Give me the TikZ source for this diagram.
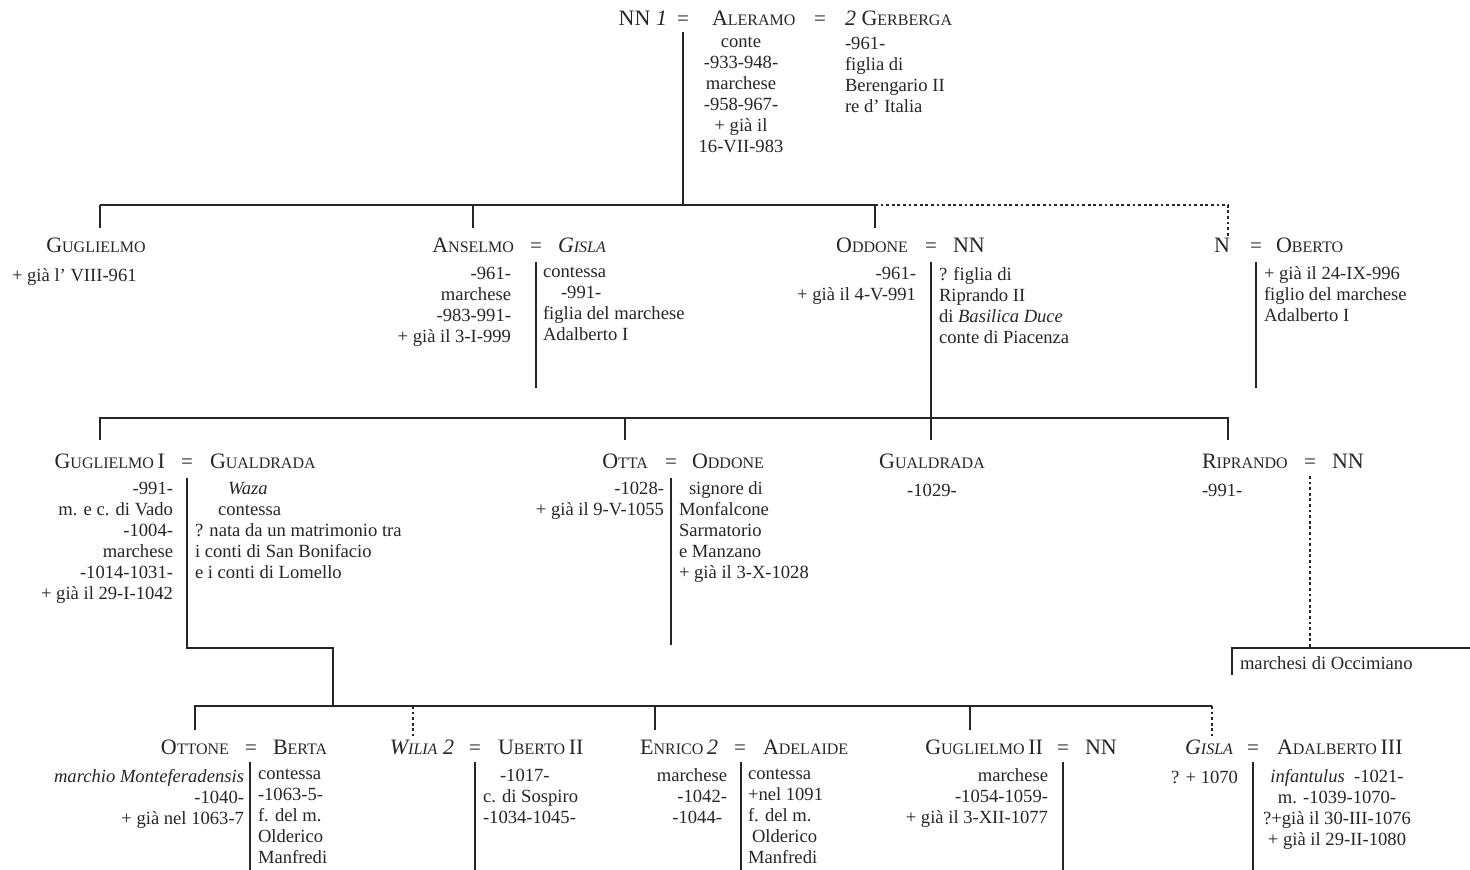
\documentclass[tikz,border=0pt]{standalone}
\usepackage{fontspec}
\setmainfont{Liberation Serif}
\definecolor{ink}{RGB}{38,38,38}
\newcommand\Nm[2]{{\fontsize{11}{12}\selectfont #1}{\fontsize{8}{10}\selectfont #2}}
\newcommand\Nb[1]{{\fontsize{11}{12}\selectfont #1}}
\tikzset{
  x=0.5pt, y=-0.5pt,
  every node/.style={inner sep=0pt, outer sep=0pt, text=ink},
  nm/.style={font=\fontsize{11}{12}\selectfont, yshift=-0.75pt},
  eq/.style={anchor=base, font=\fontsize{10.5}{12}\selectfont, yshift=-0.75pt},
  bodyfont/.style={font=\fontsize{9.3}{10.5}\selectfont, yshift=5pt, execute at begin node=\strut},
  bodyL/.style={bodyfont, anchor=north west, align=left},
  bodyR/.style={bodyfont, anchor=north east, align=right},
  bodyC/.style={bodyfont, anchor=north, align=center},
  tie/.style={draw=ink, line width=0.8pt},
  dot/.style={draw=ink, line width=0.8pt, dash pattern=on 1.4pt off 1.4pt},
}
\begin{document}
\begin{tikzpicture}
\useasboundingbox[fill=white] (0,0) rectangle (1470,870);

% ---------- generation 0 ----------
\node[nm, anchor=base east] (nn1) at (667,24) {NN \textit{1}};
\node[eq] (eq0a) at (683,24) {=};
\node[nm, anchor=base west] (aleramo) at (712,24) {\Nm{A}{LERAMO}};
\node[eq] (eq0b) at (820,24) {=};
\node[nm, anchor=base west] (gerberga) at (845,24) {\textit{2} \Nm{G}{ERBERGA}};
\node[bodyC] (aleramoT) at (741,47) {conte\\-933-948-\\marchese\\-958-967-\\+ già il\\16-VII-983};
\node[bodyL] (gerbergaT) at (845,47) {-961-\\figlia di\\Berengario II\\re d' Italia};

% ---------- generation 1 ----------
\node[nm, anchor=base] (gugl) at (96,251) {\Nm{G}{UGLIELMO}};
\node[bodyL] (guglT) at (12,277) {+ già l' VIII-961};

\node[nm, anchor=base east] (anselmo) at (514,251) {\Nm{A}{NSELMO}};
\node[eq] (eq1a) at (536,251) {=};
\node[nm, anchor=base west] (gisla1) at (558,251) {\textit{\Nm{G}{ISLA}}};
\node[bodyR] (anselmoT) at (511,277) {-961-\\marchese\\-983-991-\\+ già il 3-I-999};
\node[bodyL] (gisla1T) at (543,277) {contessa\\\hspace*{9pt}-991-\\figlia del marchese\\Adalberto I};

\node[nm, anchor=base east] (oddone1) at (908,251) {\Nm{O}{DDONE}};
\node[eq] (eq1b) at (931,251) {=};
\node[nm, anchor=base west] (nn2) at (953,251) {NN};
\node[bodyR] (oddone1T) at (916,277) {-961-\\+ già il 4-V-991};
\node[bodyL] (nn2T) at (939,277) {? figlia di\\Riprando II\\di \textit{Basilica Duce}\\conte di Piacenza};

\node[nm, anchor=base east] (nN) at (1230,251) {N};
\node[eq] (eq1c) at (1256,251) {=};
\node[nm, anchor=base west] (oberto) at (1276,251) {\Nm{O}{BERTO}};
\node[bodyL] (obertoT) at (1264,277) {+ già il 24-IX-996\\figlio del marchese\\Adalberto I};

% ---------- generation 2 ----------
\node[nm, anchor=base east] (gugl1) at (165,467) {\Nm{G}{UGLIELMO}\,\Nb{I}};
\node[eq] (eq2a) at (187,467) {=};
\node[nm, anchor=base west] (gualdr1) at (210,467) {\Nm{G}{UALDRADA}};
\node[bodyR] (gugl1T) at (173,492) {-991-\\m. e c. di Vado\\-1004-\\marchese\\-1014-1031-\\+ già il 29-I-1042};
\node[bodyL] (gualdr1T) at (195,492) {\hspace*{16.5pt}\textit{Waza}\\\hspace*{11.5pt}contessa\\? nata da un matrimonio tra\\i conti di San Bonifacio\\e i conti di Lomello};

\node[nm, anchor=base east] (otta) at (648,467) {\Nm{O}{TTA}};
\node[eq] (eq2b) at (671,467) {=};
\node[nm, anchor=base west] (oddone2) at (692,467) {\Nm{O}{DDONE}};
\node[bodyR] (ottaT) at (664,492) {-1028-\\+ già il 9-V-1055};
\node[bodyL] (oddone2T) at (679,492) {\hspace*{5pt}signore di\\Monfalcone\\Sarmatorio\\e Manzano\\+ già il 3-X-1028};

\node[nm, anchor=base] (gualdr2) at (932,467) {\Nm{G}{UALDRADA}};
\node[bodyC] (gualdr2T) at (932,492) {-1029-};

\node[nm, anchor=base west] (riprando) at (1202,467) {\Nm{R}{IPRANDO}};
\node[eq] (eq2c) at (1310,467) {=};
\node[nm, anchor=base west] (nn3) at (1332,467) {NN};
\node[bodyL] (riprandoT) at (1202,492) {-991-};
\node[bodyL] (occim) at (1240,665) {marchesi di Occimiano};

% ---------- generation 3 ----------
\node[nm, anchor=base east] (ottone) at (229,753) {\Nm{O}{TTONE}};
\node[eq] (eq3a) at (251,753) {=};
\node[nm, anchor=base west] (berta) at (273,753) {\Nm{B}{ERTA}};
\node[bodyR] (ottoneT) at (244,779) {\textit{marchio Monteferadensis}\\-1040-\\+ già nel 1063-7};
\node[bodyL] (bertaT) at (258,779) {contessa\\-1063-5-\\f. del m.\\Olderico\\Manfredi};

\node[nm, anchor=base east] (wilia) at (454,753) {\textit{\Nm{W}{ILIA} 2}};
\node[eq] (eq3b) at (475,753) {=};
\node[nm, anchor=base west] (uberto) at (498,753) {\Nm{U}{BERTO}\,\Nb{II}};
\node[bodyL] (ubertoT) at (483,779) {\hspace*{8.5pt}-1017-\\c. di Sospiro\\-1034-1045-};

\node[nm, anchor=base east] (enrico) at (718,753) {\Nm{E}{NRICO}\,\textit{2}};
\node[eq] (eq3c) at (740,753) {=};
\node[nm, anchor=base west] (adelaide) at (763,753) {\Nm{A}{DELAIDE}};
\node[bodyR] (enricoT) at (727,779) {marchese\\-1042-\hspace*{2.5pt}\\-1044-\hspace*{2.5pt}};
\node[bodyL] (adelaideT) at (748,779) {contessa\\+nel 1091\\f. del m.\\\hspace*{2pt}Olderico\\Manfredi};

\node[nm, anchor=base east] (gugl2) at (1043,753) {\Nm{G}{UGLIELMO}\,\Nb{II}};
\node[eq] (eq3d) at (1063,753) {=};
\node[nm, anchor=base west] (nn4) at (1085,753) {NN};
\node[bodyR] (gugl2T) at (1048,779) {marchese\\-1054-1059-\\+ già il 3-XII-1077};

\node[nm, anchor=base east] (gisla2) at (1233,753) {\textit{\Nm{G}{ISLA}}};
\node[eq] (eq3e) at (1253,753) {=};
\node[nm, anchor=base west] (adalb) at (1277,753) {\Nm{A}{DALBERTO}\,\Nb{III}};
\node[bodyR] (gisla2T) at (1238,779) {? + 1070};
\node[bodyC] (adalbT) at (1337,779) {\textit{infantulus}\ \ -1021-\\m. -1039-1070-\\?+già il 30-III-1076\\+ già il 29-II-1080};

% ---------- connector points ----------
\coordinate (c0t) at (683,32);  \coordinate (c0b) at (683,205);
\coordinate (b1L) at (100,205); \coordinate (b1M) at (875,205); \coordinate (b1R) at (1228,205);
\coordinate (t1a) at (100,228); \coordinate (t1b0) at (473,205); \coordinate (t1b) at (473,228);
\coordinate (t1c) at (875,228); \coordinate (t1d) at (1228,236);
\coordinate (s1at) at (536,262); \coordinate (s1ab) at (536,388);
\coordinate (s1bt) at (931,262); \coordinate (s1bb) at (931,440);
\coordinate (s1ct) at (1256,262); \coordinate (s1cb) at (1256,388);
\coordinate (b2L) at (100,418); \coordinate (b2R) at (1228,418);
\coordinate (t2a) at (100,440); \coordinate (t2b0) at (625,418); \coordinate (t2b) at (625,440);
\coordinate (t2d) at (1228,440);
\coordinate (s2at) at (187,478); \coordinate (s2ak) at (187,648); \coordinate (s2ak2) at (333,648); \coordinate (s2ab) at (333,706);
\coordinate (s2bt) at (671,478); \coordinate (s2bb) at (671,645);
\coordinate (s2ct) at (1310,476); \coordinate (s2cb) at (1310,648);
\coordinate (occR) at (1470,648); \coordinate (occL) at (1232,648); \coordinate (occB) at (1232,675);
\coordinate (b3L) at (195,706); \coordinate (b3R) at (1212,706);
\coordinate (t3a) at (195,730);
\coordinate (t3b0) at (413,706); \coordinate (t3b) at (413,736);
\coordinate (t3c0) at (655,706); \coordinate (t3c) at (655,730);
\coordinate (t3d0) at (970,706); \coordinate (t3d) at (970,730);
\coordinate (t3e) at (1212,736);
\coordinate (s3at) at (250,762); \coordinate (s3ab) at (250,870);
\coordinate (s3bt) at (475,762); \coordinate (s3bb) at (475,870);
\coordinate (s3ct) at (741,762); \coordinate (s3cb) at (741,870);
\coordinate (s3dt) at (1063,762); \coordinate (s3db) at (1063,870);
\coordinate (s3et) at (1253,762); \coordinate (s3eb) at (1253,870);

% ---------- connectors ----------
\draw[tie] (c0t) -- (c0b);
\draw[tie] (b1L) -- (b1M);
\draw[dot] (b1M) -- (b1R) -- (t1d);
\draw[tie] (b1L) -- (t1a);
\draw[tie] (t1b0) -- (t1b);
\draw[tie] (b1M) -- (t1c);
\draw[tie] (s1at) -- (s1ab);
\draw[tie] (s1bt) -- (s1bb);
\draw[tie] (s1ct) -- (s1cb);
\draw[tie] (t2a) -- (b2L) -- (b2R) -- (t2d);
\draw[tie] (t2b0) -- (t2b);
\draw[tie] (s2at) -- (s2ak) -- (s2ak2) -- (s2ab);
\draw[tie] (s2bt) -- (s2bb);
\draw[dot] (s2ct) -- (s2cb);
\draw[tie] (occR) -- (occL) -- (occB);
\draw[tie] (t3a) -- (b3L) -- (b3R);
\draw[dot] (b3R) -- (t3e);
\draw[dot] (t3b0) -- (t3b);
\draw[tie] (t3c0) -- (t3c);
\draw[tie] (t3d0) -- (t3d);
\draw[tie] (s3at) -- (s3ab);
\draw[tie] (s3bt) -- (s3bb);
\draw[tie] (s3ct) -- (s3cb);
\draw[tie] (s3dt) -- (s3db);
\draw[tie] (s3et) -- (s3eb);
\end{tikzpicture}
\end{document}
